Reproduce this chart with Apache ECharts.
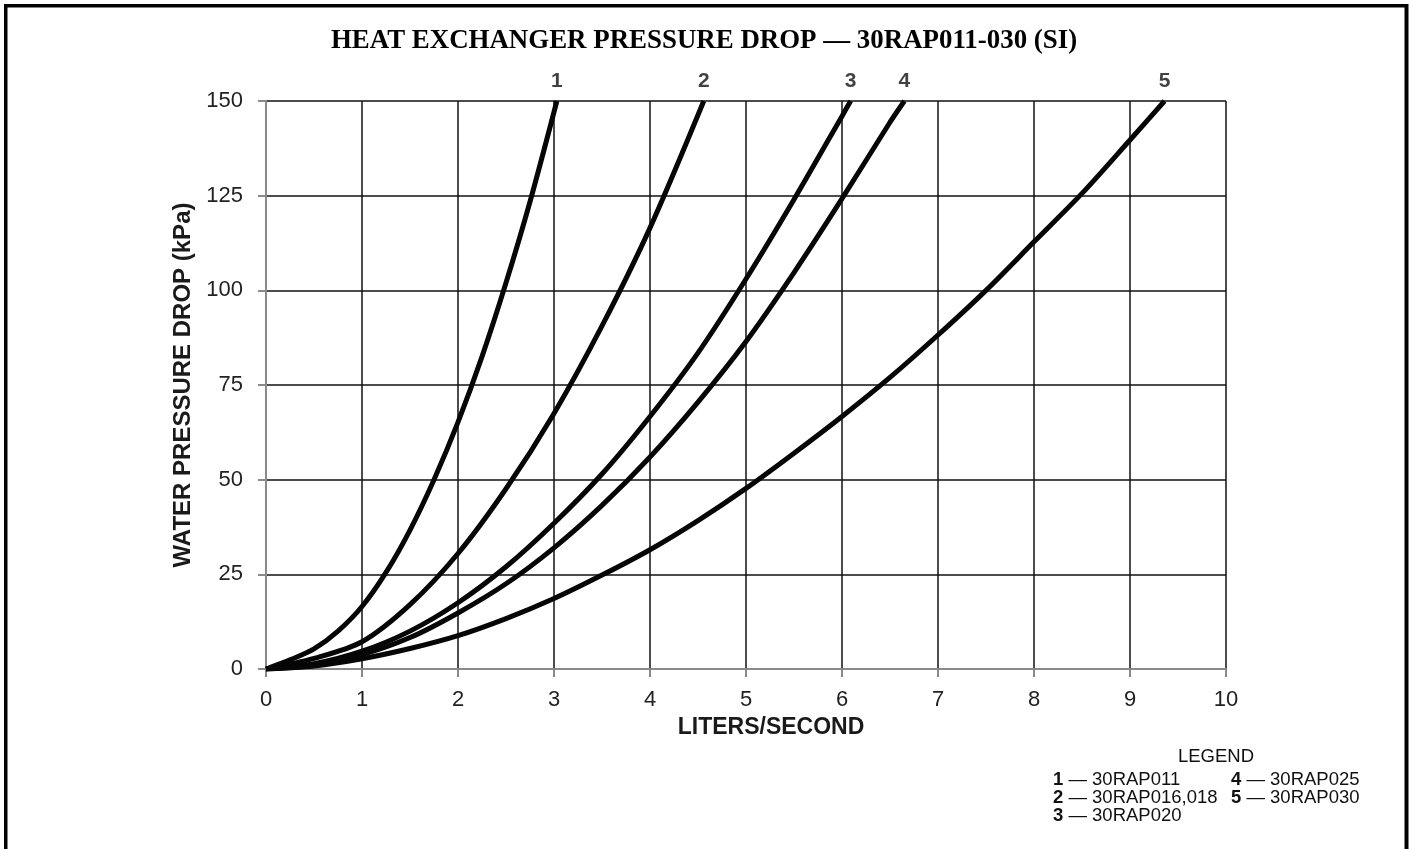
<!DOCTYPE html>
<html><head><meta charset="utf-8">
<script src="https://cdn.jsdelivr.net/npm/echarts/dist/echarts.min.js"></script>
<style>html,body{margin:0;padding:0;background:#fff}#c{width:1409px;height:849px}</style>
</head><body><div id="c"></div>
<script>
// ---- data ----
const curveIds = ['1', '2', '3', '4', '5'];
const legendNames = ['30RAP011', '30RAP016,018', '30RAP020', '30RAP025', '30RAP030'];
const xTicks = [0, 1, 2, 3, 4, 5, 6, 7, 8, 9, 10];
const yTicks = [0, 25, 50, 75, 100, 125, 150];

const c1x = [0, 0.25, 0.5, 0.75, 1, 1.25, 1.5, 1.75, 2, 2.25, 2.5, 2.75, 3.03];
const c1y = [0, 2.4, 5.3, 10, 16.5, 25.5, 36.7, 50, 65.2, 82.5, 102, 123.4, 150];

const c2x = [0, 0.5, 1, 1.5, 2, 2.5, 3, 3.5, 4, 4.56];
const c2y = [0, 2.8, 7.2, 17, 30.5, 47.6, 67.5, 90.6, 116.5, 150];

const c3x = [0, 0.5, 1, 1.5, 2, 2.5, 3, 3.5, 4, 4.5, 5, 5.5, 6, 6.09];
const c3y = [0, 1.4, 4.7, 10, 17.5, 27, 38.5, 51.5, 66.7, 83.5, 103, 124, 146, 150];

const c4x = [0, 0.5, 1, 1.5, 2, 2.5, 3, 3.5, 4, 4.5, 5, 5.5, 6, 6.5, 6.65];
const c4y = [0, 1.1, 3.8, 8.3, 14.8, 22.5, 32, 43.2, 56, 70.5, 86.5, 104.7, 124.2, 144.4, 150];

const c5x = [0, 0.5, 1, 1.5, 2, 2.5, 3, 3.5, 4, 4.5, 5, 5.5, 6, 6.5, 7, 7.5, 8, 8.5, 9, 9.36];
const c5y = [0, 0.8, 2.7, 5.4, 8.8, 13.3, 18.6, 24.8, 31.5, 39.2, 47.7, 57, 66.7, 77, 88.2, 100, 112.8, 125.6, 139.7, 150];

const curvesX = [c1x, c2x, c3x, c4x, c5x];
const curvesY = [c1y, c2y, c3y, c4y, c5y];

// ---- chart ----
const chart = echarts.init(document.getElementById('c'), null, {renderer: 'canvas'});
const SANS = '"Liberation Sans", Arial, sans-serif';

const lineSeries = curvesX.map((xs, i) => ({
  type: 'line',
  name: curveIds[i],
  data: xs.map((x, j) => [x, curvesY[i][j]]),
  smooth: 0.3,
  symbol: 'none',
  lineStyle: {color: '#060606', width: 5},
  z: 5
}));

const endLabels = {
  type: 'scatter',
  clip: false,
  data: curvesX.map((xs, i) => ({value: [xs[xs.length - 1], curvesY[i][curvesY[i].length - 1]], name: curveIds[i]})),
  symbolSize: 2,
  itemStyle: {color: 'rgba(0,0,0,0)'},
  label: {
    show: true, position: 'top', distance: 8,
    formatter: p => p.name,
    fontFamily: SANS, fontWeight: 'bold', fontSize: 21, color: '#111'
  },
  z: 6
};

const legendRows = [
  {x: 1053, y: 780, id: curveIds[0], name: legendNames[0]},
  {x: 1053, y: 798, id: curveIds[1], name: legendNames[1]},
  {x: 1053, y: 816, id: curveIds[2], name: legendNames[2]},
  {x: 1231, y: 780, id: curveIds[3], name: legendNames[3]},
  {x: 1231, y: 798, id: curveIds[4], name: legendNames[4]}
];

const graphics = [
  {type: 'rect', shape: {x: 4, y: 4, width: 3.5, height: 850}, style: {fill: '#000'}},
  {type: 'rect', shape: {x: 4, y: 4, width: 1404, height: 3.5}, style: {fill: '#000'}},
  {type: 'rect', shape: {x: 1404.5, y: 4, width: 4, height: 850}, style: {fill: '#000'}},
  {type: 'text', x: 704, y: 41, scaleX: 0.96,
    style: {text: 'HEAT EXCHANGER PRESSURE DROP \u2014 30RAP011-030 (SI)', fill: '#000',
      font: 'bold 28px "Liberation Serif", serif', textAlign: 'center', textVerticalAlign: 'middle'}},
  {type: 'text', x: 1216, y: 757,
    style: {text: 'LEGEND', fill: '#111', font: '18.5px ' + SANS, textAlign: 'center', textVerticalAlign: 'middle'}}
];
legendRows.forEach(r => {
  graphics.push({type: 'text', x: r.x, y: r.y, style: {
    text: '{b|' + r.id + '} \u2014 ' + r.name,
    fill: '#111', font: '18.5px ' + SANS, textVerticalAlign: 'middle',
    rich: {b: {fontWeight: 'bold', fontSize: 18.5, fontFamily: SANS, fill: '#111'}}
  }});
});

chart.setOption({
  animation: false,
  backgroundColor: '#fff',
  grid: {left: 266, right: 183, top: 101, bottom: 180, containLabel: false},
  xAxis: {
    type: 'value', min: xTicks[0], max: xTicks[xTicks.length - 1], interval: xTicks[1] - xTicks[0],
    name: 'LITERS/SECOND', nameLocation: 'middle', nameGap: 45,
    nameTextStyle: {fontFamily: SANS, fontWeight: 'bold', fontSize: 23, color: '#1a1a1a', padding: [0, 0, 0, 50]},
    axisLine: {lineStyle: {color: '#8a8a8a', width: 2}},
    axisTick: {show: true, length: 8, lineStyle: {color: '#8a8a8a', width: 2}},
    axisLabel: {fontFamily: SANS, fontSize: 22, color: '#222', margin: 20},
    splitLine: {show: true, lineStyle: {color: '#111', width: 1.5}}
  },
  yAxis: {
    type: 'value', min: yTicks[0], max: yTicks[yTicks.length - 1], interval: yTicks[1] - yTicks[0],
    name: 'WATER PRESSURE DROP (kPa)', nameLocation: 'middle', nameGap: 67, nameRotate: 90,
    nameTextStyle: {fontFamily: SANS, fontWeight: 'bold', fontSize: 24, color: '#1a1a1a'},
    axisLine: {show: true, lineStyle: {color: '#8a8a8a', width: 2}},
    axisTick: {show: true, length: 8, lineStyle: {color: '#8a8a8a', width: 2}},
    axisLabel: {fontFamily: SANS, fontSize: 22, color: '#222', margin: 23},
    splitLine: {show: true, lineStyle: {color: '#111', width: 1.5}}
  },
  series: [...lineSeries, endLabels],
  graphic: graphics
});
</script>
</body></html>
